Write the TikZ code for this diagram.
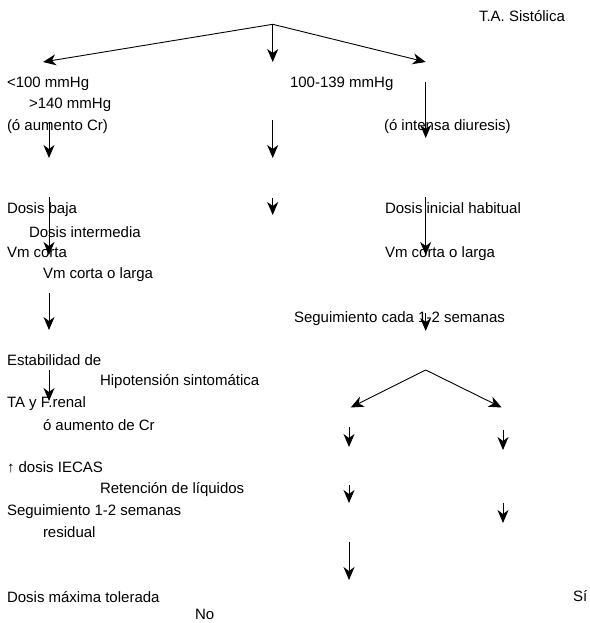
\documentclass[tikz,border=0pt]{standalone}
\usepackage{fontspec}
\setmainfont{Liberation Sans}
\usetikzlibrary{arrows.meta}
\tikzset{
  lbl/.style={anchor=base west, inner sep=0pt, outer sep=0pt,
              font=\fontsize{15}{18}\selectfont},
  flow/.style={draw=black, line width=0.9pt,
               -{Stealth[length=13pt, width=11pt, inset=4pt]}}
}
% text rows are given by their visual centre line; baseline sits 5.4 below it
\newcommand{\txt}[4]{\node[lbl] (#1) at (#2,#3+5.4) {#4};}
\begin{document}
\begin{tikzpicture}[x=1pt, y=-1pt]
\useasboundingbox (0,0) rectangle (589,623);

% ---- labels ----
\txt{ta}{479}{16}{T.A. Sistólica}
\txt{lt}{7}{82}{<100 mmHg}
\txt{gt}{29}{103}{>140 mmHg}
\txt{cr}{7}{125}{(ó aumento Cr)}
\txt{mid}{290}{82}{100-139 mmHg}
\txt{diu}{384}{125}{(ó intensa diuresis)}
\txt{baja}{7}{208}{Dosis baja}
\txt{inter}{29}{232}{Dosis intermedia}
\txt{vmc}{7}{252}{Vm corta}
\txt{vmcl}{43}{273}{Vm corta o larga}
\txt{hab}{385}{208}{Dosis inicial habitual}
\txt{vmcr}{385}{252}{Vm corta o larga}
\txt{seg}{294}{317}{Seguimiento cada 1-2 semanas}
\txt{est}{7}{360}{Estabilidad de}
\txt{hipo}{100}{380}{Hipotensión sintomática}
\txt{fren}{7}{402}{TA y F.renal}
\txt{aum}{43}{425}{ó aumento de Cr}
\txt{iecas}{7}{467}{↑ dosis IECAS}
\txt{ret}{100}{488}{Retención de líquidos}
\txt{segl}{7}{510}{Seguimiento 1-2 semanas}
\txt{res}{43}{532}{residual}
\txt{max}{7}{597}{Dosis máxima tolerada}
\txt{no}{195}{614.5}{No}
\txt{si}{573}{596}{Sí}

% ---- arrow end points ----
\coordinate (top) at (272.7,24.3);
\coordinate (tl) at (43,62);
\coordinate (tm) at (272.7,62);
\coordinate (tr) at (425.7,62);

\coordinate (a1s) at (49,122);    \coordinate (a1e) at (49,158);
\coordinate (a2s) at (272.7,120); \coordinate (a2e) at (272.7,158);
\coordinate (a3s) at (425.7,82);  \coordinate (a3e) at (425.7,138);
\coordinate (a4s) at (49,197);    \coordinate (a4e) at (49,255);
\coordinate (a5s) at (272.7,198); \coordinate (a5e) at (272.7,215);
\coordinate (a6s) at (425.7,197); \coordinate (a6e) at (425.7,255);
\coordinate (a7s) at (49,293);    \coordinate (a7e) at (49,330);
\coordinate (a8s) at (425.7,313); \coordinate (a8e) at (425.7,331);
\coordinate (a9s) at (49,370);    \coordinate (a9e) at (49,401);

\coordinate (fork) at (425.7,370);
\coordinate (fl) at (350.7,407.5);
\coordinate (fr) at (501.7,407.5);

\coordinate (b1s) at (349,427); \coordinate (b1e) at (349,447);
\coordinate (b2s) at (503,430); \coordinate (b2e) at (503,450);
\coordinate (b3s) at (349,485); \coordinate (b3e) at (349,503);
\coordinate (b4s) at (503,503); \coordinate (b4e) at (503,523);
\coordinate (b5s) at (349,542); \coordinate (b5e) at (349,580);

% ---- connectors ----
\draw[flow] (top) -- (tl);
\draw[flow] (top) -- (tm);
\draw[flow] (top) -- (tr);
\foreach \a in {a1,a2,a3,a4,a5,a6,a7,a8,a9,b1,b2,b3,b4,b5}
  \draw[flow] (\a s) -- (\a e);
\draw[flow] (fork) -- (fl);
\draw[flow] (fork) -- (fr);
\end{tikzpicture}
\end{document}
